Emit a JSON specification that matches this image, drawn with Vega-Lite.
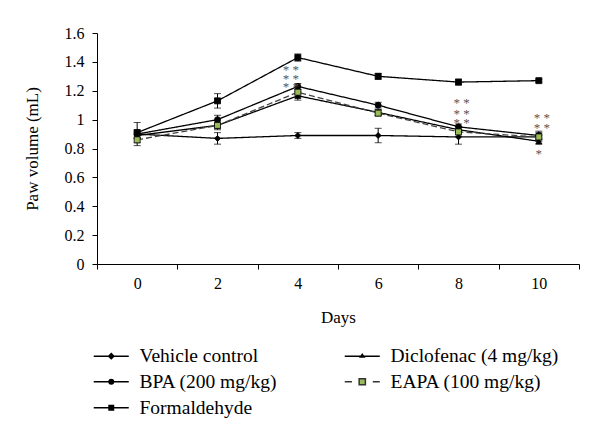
{
  "$schema": "https://vega.github.io/schema/vega-lite/v6.json",
  "width": 482,
  "height": 231,
  "autosize": {"type": "none"},
  "padding": {"left": 97, "top": 33, "right": 21, "bottom": 175},
  "background": "white",
  "config": {
    "font": "Liberation Serif",
    "view": {"stroke": null},
    "axis": {
      "domainColor": "black",
      "tickColor": "black",
      "labelColor": "black",
      "titleColor": "black",
      "labelFont": "Liberation Serif",
      "titleFont": "Liberation Serif",
      "labelFontSize": 16,
      "titleFontSize": 17,
      "titleFontWeight": "normal",
      "tickSize": 5,
      "grid": false
    }
  },
  "datasets": {
    "main": [
      {"series": "Vehicle control", "day": 0, "value": 0.90, "err": 0.03},
      {"series": "Vehicle control", "day": 2, "value": 0.87, "err": 0.04},
      {"series": "Vehicle control", "day": 4, "value": 0.89, "err": 0.02},
      {"series": "Vehicle control", "day": 6, "value": 0.89, "err": 0.05},
      {"series": "Vehicle control", "day": 8, "value": 0.88, "err": 0.05},
      {"series": "Vehicle control", "day": 10, "value": 0.88, "err": 0.03},
      {"series": "Diclofenac (4 mg/kg)", "day": 0, "value": 0.89, "err": 0.02},
      {"series": "Diclofenac (4 mg/kg)", "day": 2, "value": 0.96, "err": 0.03},
      {"series": "Diclofenac (4 mg/kg)", "day": 4, "value": 1.165, "err": 0.03},
      {"series": "Diclofenac (4 mg/kg)", "day": 6, "value": 1.05, "err": 0.02},
      {"series": "Diclofenac (4 mg/kg)", "day": 8, "value": 0.93, "err": 0.02},
      {"series": "Diclofenac (4 mg/kg)", "day": 10, "value": 0.85, "err": 0.02},
      {"series": "BPA (200 mg/kg)", "day": 0, "value": 0.90, "err": 0.02},
      {"series": "BPA (200 mg/kg)", "day": 2, "value": 1.00, "err": 0.03},
      {"series": "BPA (200 mg/kg)", "day": 4, "value": 1.23, "err": 0.02},
      {"series": "BPA (200 mg/kg)", "day": 6, "value": 1.10, "err": 0.02},
      {"series": "BPA (200 mg/kg)", "day": 8, "value": 0.95, "err": 0.02},
      {"series": "BPA (200 mg/kg)", "day": 10, "value": 0.89, "err": 0.03},
      {"series": "EAPA (100 mg/kg)", "day": 0, "value": 0.86, "err": 0.04},
      {"series": "EAPA (100 mg/kg)", "day": 2, "value": 0.96, "err": 0.02},
      {"series": "EAPA (100 mg/kg)", "day": 4, "value": 1.19, "err": 0.02},
      {"series": "EAPA (100 mg/kg)", "day": 6, "value": 1.045, "err": 0.02},
      {"series": "EAPA (100 mg/kg)", "day": 8, "value": 0.915, "err": 0.02},
      {"series": "EAPA (100 mg/kg)", "day": 10, "value": 0.88, "err": 0.02},
      {"series": "Formaldehyde", "day": 0, "value": 0.91, "err": 0.07},
      {"series": "Formaldehyde", "day": 2, "value": 1.13, "err": 0.05},
      {"series": "Formaldehyde", "day": 4, "value": 1.43, "err": 0.025},
      {"series": "Formaldehyde", "day": 6, "value": 1.30, "err": 0.02},
      {"series": "Formaldehyde", "day": 8, "value": 1.26, "err": 0.02},
      {"series": "Formaldehyde", "day": 10, "value": 1.27, "err": 0.01}
    ],
    "stars": [
      {"day": 4, "value": 1.366, "label": "*  *"},
      {"day": 4, "value": 1.304, "label": "*  *"},
      {"day": 4, "value": 1.245, "label": "*  *"},
      {"day": 8, "value": 1.136, "label": "*  *"},
      {"day": 8, "value": 1.062, "label": "*  *"},
      {"day": 8, "value": 0.997, "label": "*  *"},
      {"day": 10, "value": 1.032, "label": "*  *"},
      {"day": 10, "value": 0.962, "label": "*  *"},
      {"day": 10, "value": 0.782, "label": "*"}
    ]
  },
  "encoding": {
    "x": {
      "field": "day", "type": "quantitative",
      "scale": {"domain": [-1, 11], "nice": false, "zero": false},
      "axis": {
        "title": "Days",
        "values": [-1, 0, 1, 2, 3, 4, 5, 6, 7, 8, 9, 10, 11],
        "labelExpr": "(datum.value % 2 === 0 && datum.value >= 0) ? datum.label : ''",
        "tickOpacity": {"condition": {"test": "datum.value % 2 === 0", "value": 0}, "value": 1},
        "labelPadding": 6,
        "titlePadding": 18
      }
    },
    "y": {
      "field": "value", "type": "quantitative",
      "scale": {"domain": [0, 1.6], "nice": false},
      "axis": {
        "title": "Paw volume (mL)",
        "values": [0, 0.2, 0.4, 0.6, 0.8, 1, 1.2, 1.4, 1.6],
        "format": "~g",
        "labelPadding": 8,
        "titlePadding": 23
      }
    }
  },
  "layer": [
    {
      "data": {"name": "main"},
      "mark": {"type": "errorbar", "ticks": {"size": 7}, "color": "black", "thickness": 1},
      "encoding": {
        "yError": {"field": "err"}
      }
    },
    {
      "data": {"name": "main"},
      "mark": {"type": "line", "strokeWidth": 1.3},
      "encoding": {
        "detail": {"field": "series"},
        "color": {
          "field": "series",
          "scale": {
            "domain": ["Vehicle control", "Diclofenac (4 mg/kg)", "BPA (200 mg/kg)", "EAPA (100 mg/kg)", "Formaldehyde"],
            "range": ["black", "black", "black", "#444444", "black"]
          },
          "legend": null
        },
        "strokeDash": {
          "field": "series",
          "scale": {
            "domain": ["Vehicle control", "Diclofenac (4 mg/kg)", "BPA (200 mg/kg)", "EAPA (100 mg/kg)", "Formaldehyde"],
            "range": [[1, 0], [1, 0], [1, 0], [6, 3], [1, 0]]
          },
          "legend": null
        }
      }
    },
    {
      "data": {"name": "main"},
      "mark": {"type": "point", "filled": true, "stroke": "black", "strokeWidth": 0.8, "size": 36, "opacity": 1},
      "encoding": {
        "shape": {
          "field": "series",
          "scale": {
            "domain": ["Vehicle control", "Diclofenac (4 mg/kg)", "BPA (200 mg/kg)", "EAPA (100 mg/kg)", "Formaldehyde"],
            "range": ["diamond", "triangle-up", "circle", "square", "square"]
          },
          "legend": null
        },
        "fill": {
          "field": "series",
          "scale": {
            "domain": ["Vehicle control", "Diclofenac (4 mg/kg)", "BPA (200 mg/kg)", "EAPA (100 mg/kg)", "Formaldehyde"],
            "range": ["black", "black", "black", "#9bbb59", "black"]
          },
          "legend": null
        }
      }
    },
    {
      "data": {"name": "main"},
      "transform": [{"filter": "false"}],
      "mark": {"type": "point", "filled": false, "opacity": 1, "strokeWidth": 1.4},
      "encoding": {
        "shape": {
          "field": "series",
          "scale": {
            "domain": ["Vehicle control", "BPA (200 mg/kg)", "Formaldehyde", "Diclofenac (4 mg/kg)", "EAPA (100 mg/kg)"],
            "range": [
              "M-4,0H0.375M-1.8125,-0.32L-1.49,0L-1.8125,0.32L-2.135,0Z",
              "M-4,0H0.375M-2.09,0A0.28,0.28 0 1,0 -1.53,0A0.28,0.28 0 1,0 -2.09,0Z",
              "M-4,0H0.375M-2.09,-0.28H-1.53V0.28H-2.09Z",
              "M-4,0H0.375M-1.8125,-0.22L-1.58,0.12H-2.045Z",
              "M-4,0H-3.1M-0.5,0H0.375M-2.2,-0.38H-1.42V0.38H-2.2Z"
            ]
          },
          "legend": {
            "title": null,
            "orient": "none",
            "legendX": 19,
            "legendY": 313,
            "direction": "vertical",
            "columns": 2,
            "columnPadding": 63,
            "rowPadding": 5,
            "symbolSize": 256,
            "labelFont": "Liberation Serif",
            "labelFontSize": 19.5,
            "labelColor": "black",
            "labelOffset": 4,
            "labelLimit": 300
          }
        },
        "stroke": {
          "field": "series",
          "scale": {
            "domain": ["Vehicle control", "BPA (200 mg/kg)", "Formaldehyde", "Diclofenac (4 mg/kg)", "EAPA (100 mg/kg)"],
            "range": ["black", "black", "black", "black", "#333333"]
          }
        },
        "fill": {
          "field": "series",
          "scale": {
            "domain": ["Vehicle control", "BPA (200 mg/kg)", "Formaldehyde", "Diclofenac (4 mg/kg)", "EAPA (100 mg/kg)"],
            "range": ["black", "black", "black", "black", "#9bbb59"]
          }
        }
      }
    },
    {
      "data": {"name": "stars"},
      "transform": [{"filter": "datum.day === 4"}],
      "mark": {"type": "text", "fontSize": 13, "color": "#555555", "baseline": "middle", "dx": -7, "dy": 3},
      "encoding": {
        "text": {"field": "label"}
      }
    },
    {
      "data": {"name": "stars"},
      "transform": [{"filter": "datum.day !== 4 && datum.label !== '*'"}],
      "mark": {"type": "text", "fontSize": 13, "color": "#555555", "baseline": "middle", "dx": 3, "dy": 3},
      "encoding": {
        "text": {"field": "label"}
      }
    },
    {
      "data": {"name": "stars"},
      "transform": [{"filter": "datum.label === '*'"}],
      "mark": {"type": "text", "fontSize": 13, "color": "#555555", "baseline": "middle", "dx": 0, "dy": 3},
      "encoding": {
        "text": {"field": "label"}
      }
    }
  ],
  "resolve": {"scale": {"shape": "independent", "fill": "independent", "stroke": "independent"}}
}
